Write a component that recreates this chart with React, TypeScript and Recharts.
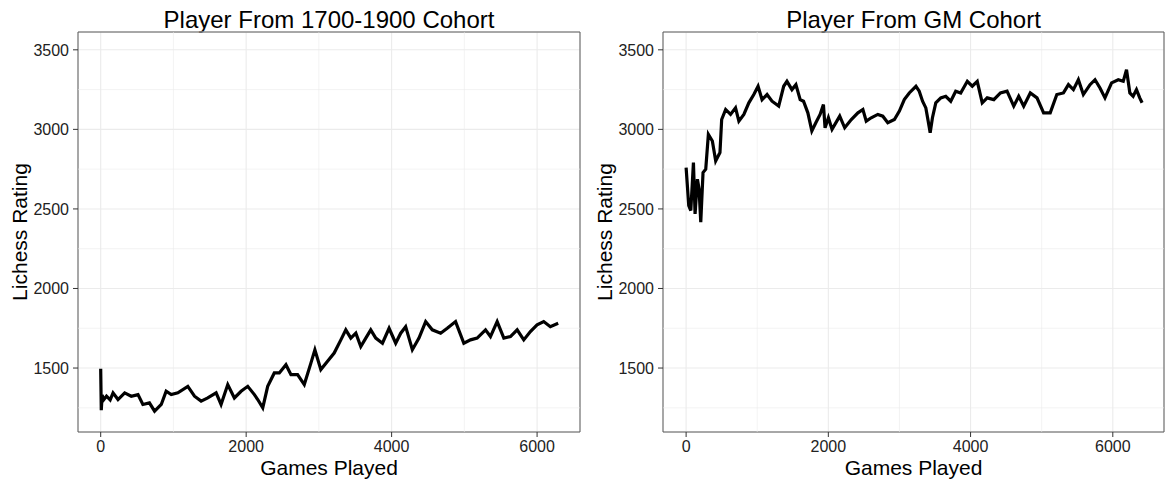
import { LineChart, Line, XAxis, YAxis, CartesianGrid, ReferenceLine, ReferenceArea } from "recharts";

// games played / rating
const lowGames = [
  0, 8, 20, 40, 80, 130, 170, 238, 330, 420, 513, 580, 670, 741, 833, 900, 970, 1061, 1198, 1290,
  1381, 1472, 1587, 1655, 1747, 1838, 1930, 2022, 2113, 2159, 2228, 2296, 2387, 2456, 2547, 2616,
  2707, 2799, 2890, 2945, 3027, 3119, 3210, 3302, 3370, 3439, 3508, 3576, 3645, 3713, 3782, 3874,
  3965, 4056, 4125, 4193, 4285, 4376, 4468, 4559, 4674, 4765, 4879, 4993, 5085, 5176, 5291, 5359,
  5451, 5543, 5634, 5726, 5817, 5908, 6000, 6091, 6182, 6290,
];
const lowRating = [
  1495, 1235, 1330, 1300, 1323, 1300, 1344, 1302, 1344, 1323, 1333, 1271, 1281, 1229, 1271, 1354, 1333, 1344, 1385, 1323,
  1292, 1312, 1344, 1271, 1396, 1312, 1354, 1385, 1333, 1302, 1250, 1385, 1469, 1469, 1521, 1458,
  1458, 1396, 1531, 1615, 1490, 1542, 1594, 1677, 1740, 1688, 1719, 1635, 1688, 1740, 1688, 1656,
  1750, 1656, 1719, 1760, 1615, 1688, 1792, 1740, 1719, 1750, 1792, 1656, 1677, 1688, 1740, 1698,
  1792, 1688, 1698, 1740, 1677, 1729, 1771, 1792, 1760, 1781,
];

const gmGames = [
  0, 37, 66, 103, 126, 159, 182, 206, 238, 276, 313, 369, 416, 476, 500, 556, 625, 695, 742, 812,
  882, 952, 1012, 1068, 1138, 1208, 1302, 1372, 1418, 1488, 1544, 1604, 1651, 1712, 1768, 1824,
  1884, 1931, 1954, 2001, 2052, 2160, 2230, 2323, 2416, 2486, 2533, 2603, 2696, 2766, 2836, 2929,
  2999, 3068, 3138, 3232, 3278, 3325, 3371, 3404, 3432, 3464, 3511, 3581, 3651, 3721, 3791, 3861,
  3954, 4024, 4094, 4164, 4234, 4327, 4420, 4513, 4607, 4677, 4747, 4840, 4934, 5027, 5120, 5213,
  5306, 5376, 5446, 5516, 5586, 5680, 5750, 5820, 5890, 5983, 6077, 6147, 6193, 6240, 6286, 6333,
  6379, 6412,
];
const gmRating = [
  2760, 2521, 2490, 2792, 2469, 2687, 2625, 2417, 2729, 2750, 2969, 2927, 2802, 2854, 3062, 3125, 3094, 3135, 3052, 3094,
  3167, 3219, 3271, 3187, 3219, 3177, 3146, 3271, 3302, 3250, 3281, 3187, 3177, 3104, 2990, 3042,
  3094, 3156, 3010, 3073, 3000, 3083, 3010, 3062, 3104, 3125, 3052, 3073, 3094, 3083, 3042, 3062,
  3115, 3187, 3229, 3271, 3240, 3177, 3135, 3052, 2979, 3073, 3167, 3198, 3208, 3177, 3240, 3229,
  3302, 3271, 3302, 3167, 3198, 3187, 3229, 3240, 3146, 3208, 3146, 3229, 3198, 3104, 3104, 3219,
  3229, 3281, 3250, 3312, 3219, 3281, 3312, 3260, 3198, 3292, 3312, 3302, 3375, 3229, 3208, 3250,
  3198, 3167,
];

const xTicks = [0, 2000, 4000, 6000];
const xMinor = [1000, 3000, 5000];
const yTicks = [1500, 2000, 2500, 3000, 3500];
const yMinor = [1250, 1750, 2250, 2750, 3250];
const yDomain = [1098, 3612];

const FONT = "'Liberation Sans', Arial, Helvetica, sans-serif";
const GRID = "#EBEBEB";
const INK = "#333333";

function Panel({ games, rating, title, xDomain, width }: any) {
  const data = games.map((g: number, i: number) => ({ g, r: rating[i] }));
  const plotLeft = 78;
  const plotRight = 5;
  return (
    <div style={{ position: "relative", width, height: 481 }}>
      <div
        style={{
          position: "absolute",
          left: plotLeft,
          width: width - plotLeft - plotRight,
          top: 8,
          height: 24,
          lineHeight: "24px",
          textAlign: "center",
          fontFamily: FONT,
          fontSize: 24,
          color: "#000",
          whiteSpace: "nowrap",
        }}
      >
        {title}
      </div>
      <LineChart width={width} height={481} data={data} margin={{ top: 32, right: plotRight, bottom: 0, left: 0 }}>
        <CartesianGrid stroke={GRID} strokeWidth={1.1} />
        {xMinor.map((v) => (
          <ReferenceLine key={"x" + v} x={v} stroke={GRID} strokeWidth={0.6} />
        ))}
        {yMinor.map((v) => (
          <ReferenceLine key={"y" + v} y={v} stroke={GRID} strokeWidth={0.6} />
        ))}
        <XAxis
          dataKey="g"
          type="number"
          domain={xDomain}
          ticks={xTicks}
          allowDataOverflow
          height={49}
          axisLine={false}
          tickSize={5}
          tickMargin={4}
          tickLine={{ stroke: INK }}
          tick={{ fill: "#222", fontSize: 16, fontFamily: FONT }}
          label={{
            content: ({ viewBox }: any) => (
              <text
                x={viewBox.x + viewBox.width / 2}
                y={viewBox.y + 43}
                textAnchor="middle"
                fontFamily={FONT}
                fontSize={21}
                fill="#000"
              >
                Games Played
              </text>
            ),
          }}
        />
        <YAxis
          type="number"
          domain={yDomain}
          ticks={yTicks}
          allowDataOverflow
          width={plotLeft}
          axisLine={false}
          tickSize={5}
          tickMargin={4}
          tickLine={{ stroke: INK }}
          tick={{ fill: "#222", fontSize: 16, fontFamily: FONT }}
          label={{
            content: ({ viewBox }: any) => {
              const cx = 27;
              const cy = viewBox.y + viewBox.height / 2;
              return (
                <text
                  x={cx}
                  y={cy}
                  transform={`rotate(-90 ${cx} ${cy})`}
                  textAnchor="middle"
                  fontFamily={FONT}
                  fontSize={21}
                  fill="#000"
                >
                  Lichess Rating
                </text>
              );
            },
          }}
        />
        <ReferenceArea
          x1={xDomain[0]}
          x2={xDomain[1]}
          y1={yDomain[0]}
          y2={yDomain[1]}
          fill="none"
          stroke="#5a5a5a"
          strokeWidth={1}
          ifOverflow="visible"
        />
        <Line
          type="linear"
          dataKey="r"
          stroke="#000"
          strokeWidth={3.2}
          dot={false}
          isAnimationActive={false}
        />
      </LineChart>
    </div>
  );
}

export default function App() {
  return (
    <div style={{ position: "absolute", left: 0, top: 0, width: 1169, height: 481, background: "#fff", display: "flex" }}>
      <Panel games={lowGames} rating={lowRating} title="Player From 1700-1900 Cohort" xDomain={[-312, 6590]} width={585} />
      <Panel games={gmGames} rating={gmRating} title="Player From GM Cohort" xDomain={[-325, 6720]} width={584} />
    </div>
  );
}
